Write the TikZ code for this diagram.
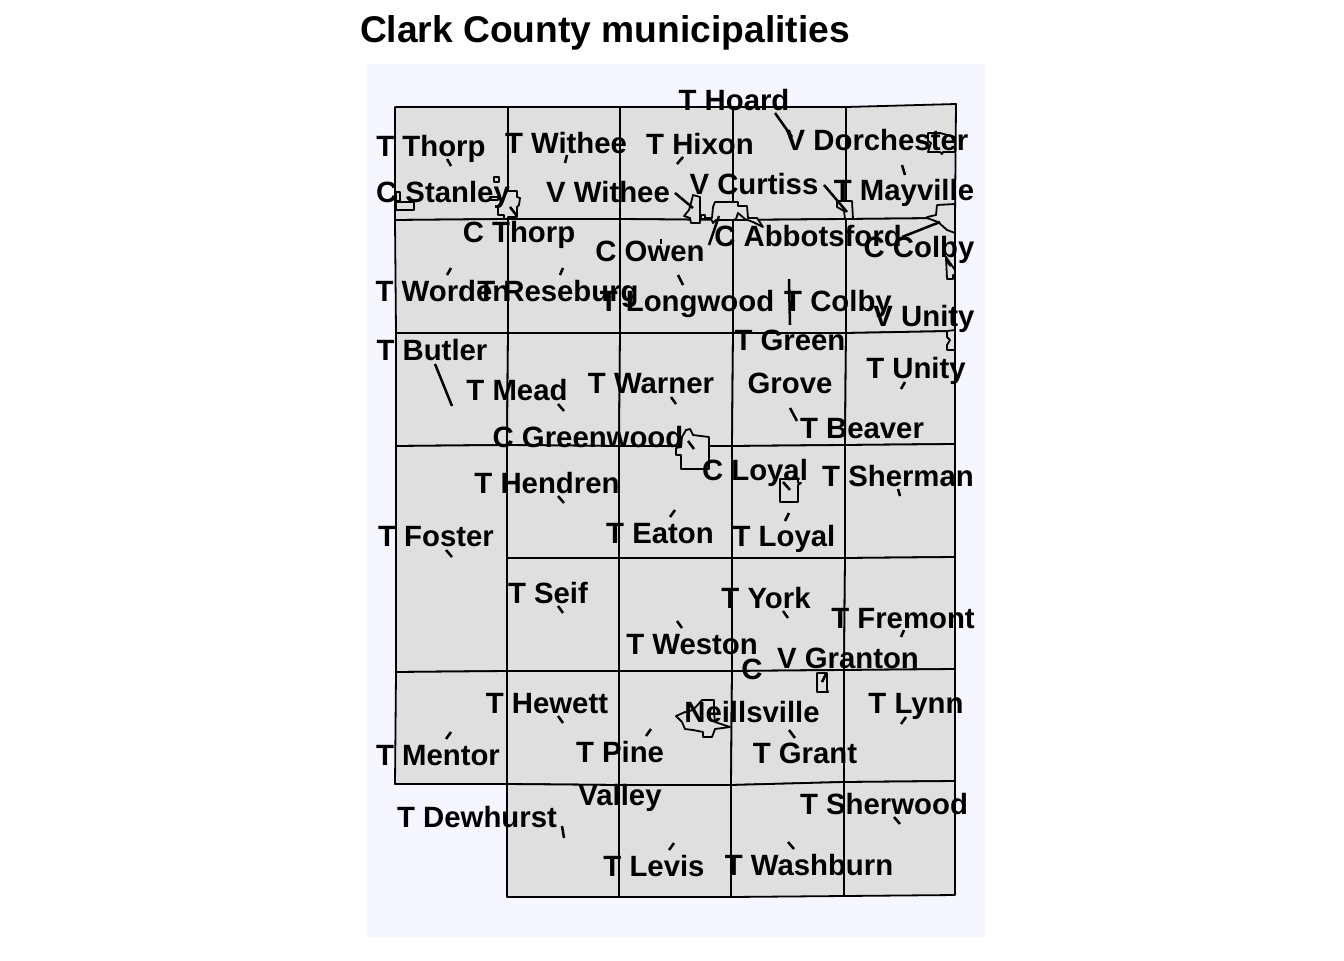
\documentclass[tikz,border=0pt]{standalone}
\usepackage{fontspec}
\setmainfont{Liberation Sans}
\tikzset{
 x=0.75pt,y=-0.75pt,
 muni/.style={draw=black,fill=muniFill,line width=1.35pt,line join=round},
 town/.style={draw=black,fill=muniFill,line width=1.35pt,line join=round},
 leader/.style={draw=black,line width=1.9pt},
 lab/.style={anchor=base,inner sep=0pt,outer sep=0pt,font=\bfseries\fontsize{22}{26}\selectfont,text=black},
 ttl/.style={anchor=base west,inner sep=0pt,outer sep=0pt,font=\bfseries\fontsize{27.9}{32}\selectfont,text=black}
}
\definecolor{muniFill}{HTML}{DFDFDF}
\definecolor{panelBg}{HTML}{F5F6FF}
\newcommand{\lbl}[4]{\node[lab] (#1) at (#2,#3) {#4};}
\newcommand{\ldr}[3]{\coordinate (#1a) at (#2); \coordinate (#1b) at (#3); \draw[leader] (#1a) -- (#1b);}
\begin{document}
\begin{tikzpicture}
\useasboundingbox (0,0) rectangle (1344,960);
\fill[panelBg] (367,64) rectangle (985,937);
% first column
\draw[muni] (395,107)--(508,107)--(508,219)--(395,220)--cycle;
\draw[muni] (395,220)--(508,219)--(508,333)--(396,333)--cycle;
\draw[muni] (396,333)--(508,333)--(507,445)--(396,446)--cycle;
\draw[muni] (396,446)--(507,445)--(507,558)--(507,671)--(396,672)--cycle;
\draw[muni] (396,672)--(507,671)--(507,784)--(395,784)--cycle;
% second column
\draw[muni] (508,107)--(620,107)--(620,219)--(508,219)--cycle;
\draw[muni] (508,219)--(620,219)--(620,333)--(508,333)--cycle;
\draw[muni] (508,333)--(620,333)--(619,446)--(507,445)--cycle;
\draw[muni] (507,445)--(619,446)--(619,558)--(507,558)--cycle;
\draw[muni] (507,558)--(619,558)--(619,671)--(507,671)--cycle;
\draw[muni] (507,671)--(619,671)--(619,785)--(507,784)--cycle;
\draw[muni] (507,784)--(619,785)--(619,897)--(507,897)--cycle;
% third column
\draw[muni] (620,107)--(733,107)--(733,220)--(620,219)--cycle;
\draw[muni] (620,219)--(733,220)--(733,333)--(620,333)--cycle;
\draw[muni] (620,333)--(733,333)--(732,446)--(619,446)--cycle;
\draw[muni] (619,446)--(732,446)--(732,558)--(619,558)--cycle;
\draw[muni] (619,558)--(732,558)--(732,671)--(619,671)--cycle;
\draw[muni] (619,671)--(732,671)--(731,785)--(619,785)--cycle;
\draw[muni] (619,785)--(731,785)--(731,897)--(619,897)--cycle;
% fourth column
\draw[muni] (733,107)--(846,107)--(846,219)--(733,220)--cycle;
\draw[muni] (733,220)--(846,219)--(846,333)--(733,333)--cycle;
\draw[muni] (733,333)--(846,333)--(845,445)--(732,446)--cycle;
\draw[muni] (732,446)--(845,445)--(845,558)--(732,558)--cycle;
\draw[muni] (732,558)--(845,558)--(844,670)--(732,671)--cycle;
\draw[muni] (732,671)--(844,670)--(844,782)--(731,785)--cycle;
\draw[muni] (731,785)--(844,782)--(844,896)--(731,897)--cycle;
% fifth column
\draw[muni] (846,107)--(956,104)--(955,218)--(846,219)--cycle;
\draw[muni] (846,219)--(955,218)--(955,331)--(846,333)--cycle;
\draw[muni] (846,333)--(955,331)--(955,444)--(845,445)--cycle;
\draw[muni] (845,445)--(955,444)--(955,557)--(845,558)--cycle;
\draw[muni] (845,558)--(955,557)--(955,669)--(844,670)--cycle;
\draw[muni] (844,670)--(955,669)--(955,781)--(844,782)--cycle;
\draw[muni] (844,782)--(955,781)--(955,895)--(844,896)--cycle;
% cities and villages
\draw[town] (396,192)--(400,192)--(400,201)--(396,201)--cycle;
\draw[town] (396,202)--(414,202)--(414,210)--(396,210)--cycle;
\draw[town] (494,177)--(499,177)--(499,182)--(494,182)--cycle;
\draw[town] (490,197)--(498,197)--(498,200)--(490,200)--cycle;
\draw[town] (498,207)--(507,191)--(517,191)--(517,197)--(520,198)--(519,205)--(517,207)--(517,217)--(508,217)--(508,219)--(504,219)--(504,215)--(498,215)--cycle;
\draw[town] (684,216)--(689,210)--(691,203)--(693,195)--(700,197)--(700,223)--(691,223)--(690,218)--cycle;
\draw[town] (701,215)--(705,215)--(705,218)--(712,218)--(713,207)--(715,202)--(738,202)--(738,206)--(747,206)--(748,218)--(757,218)--(763,227)--(753,222)--(745,219)--(738,213)--(736,219)--(733,220)--(716,220)--(713,223)--(711,219)--(701,219)--cycle;
\draw[town] (837,201)--(852,201)--(853,219)--(845,219)--(844,211)--(837,207)--cycle;
\draw[town] (928,133)--(940,133)--(955,137)--(955,152)--(943,152)--(942,154)--(940,152)--(928,152)--(931,143)--(928,141)--cycle;
\draw[town] (937,205)--(955,204)--(955,233)--(947,230)--(938,222)--(927,218)--(927,217)--(936,215)--cycle;
\draw[town] (946,257)--(955,270)--(955,275)--(953,275)--(953,279)--(947,279)--cycle;
\draw[town] (947,331)--(955,330)--(955,350)--(947,350)--(947,345)--(950,340)--(947,337)--cycle;
\draw[town] (686,430)--(690,429)--(693,435)--(709,437)--(709,469)--(681,469)--(681,455)--(676,455)--(676,448)--(681,447)--(682,437)--cycle;
\draw[town] (780,479)--(798,479)--(798,483)--(801,483)--(798,485)--(798,502)--(780,502)--cycle;
\draw[town] (817,673)--(827,673)--(827,690)--(828,692)--(817,692)--cycle;
\draw[town] (676,716)--(685,712)--(693,710)--(702,700)--(714,700)--(714,713)--(715,722)--(730,727)--(715,729)--(712,737)--(703,737)--(703,732)--(693,730)--(685,729)--(682,722)--cycle;
% titles and labels
\node[ttl] (title) at (360,42) {Clark County municipalities};
\lbl{hoard}{734}{110}{T Hoard}
\lbl{thorpT}{431}{156}{T Thorp}
\lbl{witheeT}{566}{153}{T Withee}
\lbl{hixon}{700}{154}{T Hixon}
\lbl{dorchester}{877}{150}{V Dorchester}
\lbl{curtiss}{754}{194}{V Curtiss}
\lbl{stanley}{443}{202}{C Stanley}
\lbl{witheeV}{608}{202}{V Withee}
\lbl{mayville}{904}{200}{T Mayville}
\lbl{thorpC}{519}{242}{C Thorp}
\lbl{owen}{650}{261}{C Owen}
\lbl{abbotsford}{808}{246}{C Abbotsford}
\lbl{colbyC}{919}{257}{C Colby}
\lbl{worden}{443}{301}{T Worden}
\lbl{reseburg}{558}{301}{T Reseburg}
\lbl{longwood}{687}{311}{T Longwood}
\lbl{colbyT}{838}{311}{T Colby}
\lbl{unityV}{924}{326}{V Unity}
\lbl{green}{790}{350}{T Green}
\lbl{grove}{790}{393}{Grove}
\lbl{butler}{432}{360}{T Butler}
\lbl{unityT}{916}{378}{T Unity}
\lbl{mead}{517}{400}{T Mead}
\lbl{warner}{651}{393}{T Warner}
\lbl{greenwood}{588}{447}{C Greenwood}
\lbl{beaver}{862}{438}{T Beaver}
\lbl{loyalC}{755}{480}{C Loyal}
\lbl{sherman}{898}{486}{T Sherman}
\lbl{hendren}{547}{493}{T Hendren}
\lbl{eaton}{660}{543}{T Eaton}
\lbl{loyalT}{784}{546}{T Loyal}
\lbl{foster}{436}{546}{T Foster}
\lbl{seif}{548}{603}{T Seif}
\lbl{york}{766}{608}{T York}
\lbl{fremont}{903}{628}{T Fremont}
\lbl{weston}{692}{654}{T Weston}
\lbl{granton}{848}{668}{V Granton}
\lbl{neillC}{752}{679}{C}
\lbl{neill}{752}{722}{Neillsville}
\lbl{hewett}{547}{713}{T Hewett}
\lbl{lynn}{916}{713}{T Lynn}
\lbl{mentor}{438}{765}{T Mentor}
\lbl{pine}{620}{762}{T Pine}
\lbl{valley}{620}{805}{Valley}
\lbl{grant}{805}{763}{T Grant}
\lbl{sherwood}{884}{814}{T Sherwood}
\lbl{dewhurst}{477}{827}{T Dewhurst}
\lbl{levis}{654}{876}{T Levis}
\lbl{washburn}{809}{875}{T Washburn}
% leaders
\ldr{l1}{447,159}{451,166}
\ldr{l2}{567,155}{565,163}
\ldr{l3}{683,157}{677,164}
\ldr{l4}{675,193}{693,208}
\ldr{l5}{824,185}{847,212}
\ldr{l6}{719,216}{709,245}
\ldr{l7}{775,113}{792,137}
\ldr{l8}{902,165}{905,175}
\ldr{l9}{940,222}{902,237}
\ldr{l10}{946,260}{951,266}
\ldr{l11}{451,268}{447,275}
\ldr{l12}{563,268}{560,275}
\ldr{l13}{678,275}{683,285}
\ldr{l14}{661,239}{661,244}
\ldr{l15}{789,279}{790,325}
\ldr{l16}{905,382}{901,389}
\ldr{l17}{790,408}{797,421}
\ldr{l18}{435,364}{452,406}
\ldr{l19}{558,404}{564,411}
\ldr{l20}{671,397}{676,404}
\ldr{l21}{688,441}{694,449}
\ldr{l22}{783,482}{790,490}
\ldr{l23}{898,489}{900,496}
\ldr{l24}{675,510}{670,517}
\ldr{l25}{558,496}{564,503}
\ldr{l26}{789,513}{785,521}
\ldr{l27}{446,550}{452,557}
\ldr{l28}{558,606}{563,613}
\ldr{l29}{783,611}{788,618}
\ldr{l30}{677,621}{682,628}
\ldr{l31}{904,630}{901,637}
\ldr{l32}{826,674}{822,682}
\ldr{l33}{558,716}{563,723}
\ldr{l34}{906,717}{901,724}
\ldr{l35}{451,732}{446,739}
\ldr{l36}{651,729}{646,736}
\ldr{l37}{789,730}{795,738}
\ldr{l38}{562,826}{564,838}
\ldr{l39}{894,817}{900,824}
\ldr{l40}{674,843}{669,850}
\ldr{l41}{788,842}{794,849}
\ldr{l42}{510,207}{517,216}
\end{tikzpicture}
\end{document}
